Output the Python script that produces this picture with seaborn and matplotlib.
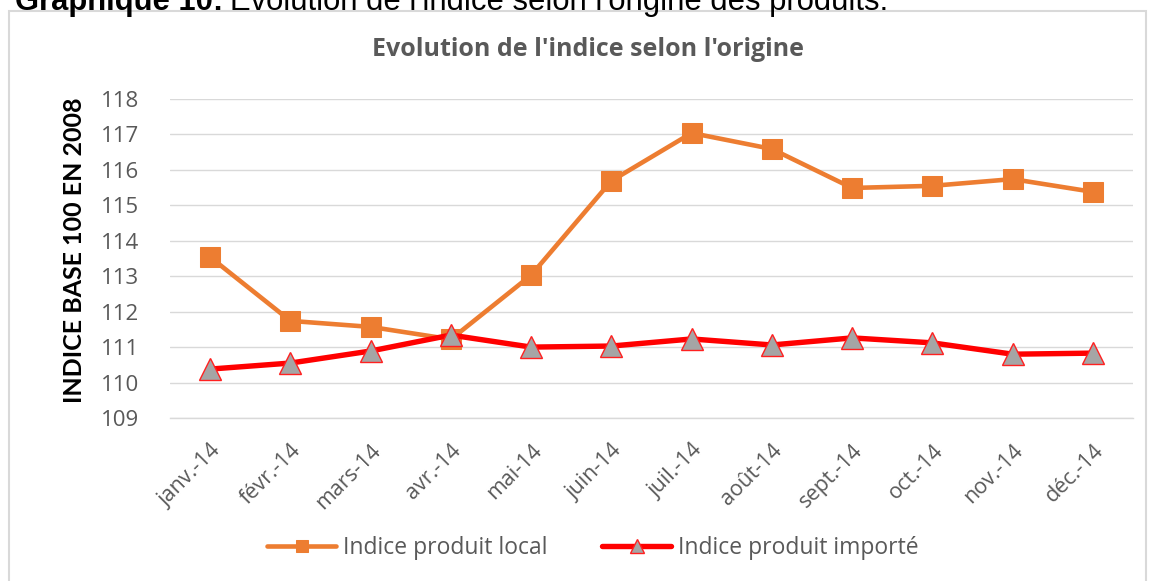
import numpy as np
import pandas as pd
import seaborn as sns
import matplotlib.pyplot as plt
from matplotlib.patches import Rectangle

# data
months = ['janv.-14', 'févr.-14', 'mars-14', 'avr.-14', 'mai-14', 'juin-14',
          'juil.-14', 'août-14', 'sept.-14', 'oct.-14', 'nov.-14', 'déc.-14']
local = [113.54, 111.74, 111.57, 111.22, 113.03, 115.69,
         117.04, 116.59, 115.49, 115.55, 115.74, 115.38]
importe = [110.38, 110.55, 110.89, 111.34, 111.00, 111.03,
           111.23, 111.06, 111.26, 111.12, 110.80, 110.83]
yticks = list(range(109, 119))

df = pd.DataFrame({'pos': np.arange(len(months)), 'local': local, 'importe': importe})

sns.set_theme(style='white')
plt.rcParams['font.family'] = ['Open Sans', 'DejaVu Sans']

W, H = 1152, 581
fig = plt.figure(figsize=(W / 100, H / 100), dpi=100)
ax = fig.add_axes([170 / W, 1 - 418 / H, (1133 - 170) / W, (418 - 99) / H])

# chart frame
fig.patches.append(Rectangle((9 / W, -0.05), (1146 - 9) / W, 1 - 11 / H + 0.05,
                             transform=fig.transFigure, fill=False,
                             edgecolor='#d9d9d9', linewidth=1.5))

grey = '#595959'
sns.lineplot(data=df, x='pos', y='local', ax=ax, color='#ED7D31', linewidth=3.3,
             marker='s', markersize=15, markeredgecolor='#ED7D31',
             label='Indice produit local')
sns.lineplot(data=df, x='pos', y='importe', ax=ax, color='#FF0000', linewidth=3.9,
             marker='^', markersize=16, markerfacecolor='#A5A5A5',
             markeredgecolor='#FF2020', markeredgewidth=1.0,
             label='Indice produit importé')

ax.set_xlim(-0.5, len(months) - 0.5)
ax.set_ylim(109, 118)
ax.set_yticks(yticks)
ax.set_yticklabels([str(v) for v in yticks], color=grey, fontsize=16)
ax.yaxis.grid(True, color='#d9d9d9', linewidth=1)
ax.set_axisbelow(True)
ax.set_xticks(np.arange(len(months)))
ax.set_xticklabels(months, rotation=45, ha='right', rotation_mode='anchor',
                   color=grey, fontsize=15.5)
ax.tick_params(axis='x', length=0, pad=16)
ax.tick_params(axis='y', length=0, pad=22)
ax.set_xticks(np.arange(-0.5, len(months)), minor=True)
ax.tick_params(axis='x', which='minor', length=7, color='#d9d9d9', width=1)

for s in ['top', 'right', 'left']:
    ax.spines[s].set_visible(False)
ax.spines['bottom'].set_color('#d9d9d9')
ax.spines['bottom'].set_linewidth(1)

ax.set_xlabel('')
ax.set_ylabel('INDICE BASE 100 EN 2008', fontsize=18, fontweight='bold',
              color='black', family=['Lato', 'DejaVu Sans'])
ax.yaxis.set_label_coords(-84 / 963, 0.525)

fig.text(588 / W, 1 - 50 / H, "Evolution de l'indice selon l'origine",
         ha='center', va='center', fontsize=18, fontweight='bold', color=grey)

# header caption, clipped by the top edge as in the source
hdr = fig.text(15 / W, 1 - 10 / H, "Graphique 10:", ha='left', va='baseline',
               fontsize=22.3, fontweight='bold', color='black',
               family=['Liberation Sans', 'DejaVu Sans'])
fig.canvas.draw()
bb = hdr.get_window_extent()
fig.text(bb.x1 / W + 7 / W, 1 - 10 / H,
         "Evolution de l'indice selon l'origine des produits.",
         ha='left', va='baseline', fontsize=22.3, color='black',
         family=['Liberation Sans', 'DejaVu Sans'])

leg = ax.legend(loc='center', bbox_to_anchor=(593 / W, 1 - 548 / H),
                bbox_transform=fig.transFigure, ncol=2, frameon=False,
                fontsize=16.5, columnspacing=2.4, handlelength=3.0,
                handletextpad=0.3, markerscale=0.6)
for t in leg.get_texts():
    t.set_color(grey)

fig.savefig('out.png', dpi=100)
